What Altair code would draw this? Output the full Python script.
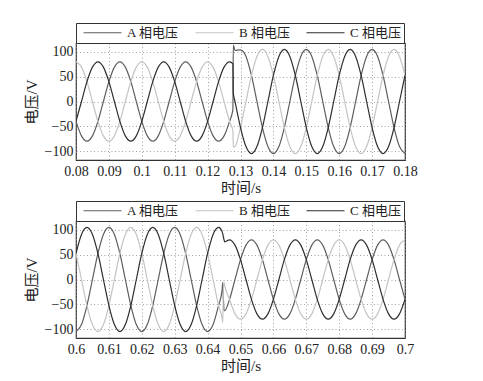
import altair as alt
import pandas as pd

PHASES = ["A 相电压", "B 相电压", "C 相电压"]
COLORS = ["#5e5e5e", "#c4c4c4", "#2e2e2e"]

# ---------- top panel (0.08 - 0.18 s) ----------
TOP_T = [0.08, 0.08167, 0.08333, 0.085, 0.08667, 0.08833, 0.09, 0.09167, 0.09333, 0.095,
         0.09667, 0.09833, 0.1, 0.10167, 0.10333, 0.105, 0.10667, 0.10833, 0.11, 0.11167,
         0.11333, 0.115, 0.11667, 0.11833, 0.12, 0.12167, 0.12333, 0.125, 0.12667,
         0.1277, 0.1278,
         0.12833, 0.13, 0.13167, 0.13333, 0.135, 0.13667, 0.13833, 0.14, 0.14167, 0.14333,
         0.145, 0.14667, 0.14833, 0.15, 0.15167, 0.15333, 0.155, 0.15667, 0.15833, 0.16,
         0.16167, 0.16333, 0.165, 0.16667, 0.16833, 0.17, 0.17167, 0.17333, 0.175, 0.17667,
         0.17833, 0.18]
TOP_A = [-40, -69.3, -80, -69.3, -40, 0, 40, 69.3, 80, 69.3, 40, 0, -40, -69.3, -80, -69.3,
         -40, 0, 40, 69.3, 80, 69.3, 40, 0, -40, -69.3, -80, -69.3, -40,
         -16, 114,
         103, 104, 90.9, 52.5, 0, -52.5, -90.9, -105, -90.9, -52.5, 0, 52.5, 90.9, 105, 90.9,
         52.5, 0, -52.5, -90.9, -105, -90.9, -52.5, 0, 52.5, 90.9, 105, 90.9, 52.5, 0, -52.5,
         -90.9, -105]
TOP_B = [80, 69.3, 40, 0, -40, -69.3, -80, -69.3, -40, 0, 40, 69.3, 80, 69.3, 40, 0, -40,
         -69.3, -80, -69.3, -40, 0, 40, 69.3, 80, 69.3, 40, 0, -40,
         -60, -92,
         -90.9, -52.5, 0, 52.5, 90.9, 105, 90.9, 52.5, 0, -52.5, -90.9, -105, -90.9, -52.5, 0,
         52.5, 90.9, 105, 90.9, 52.5, 0, -52.5, -90.9, -105, -90.9, -52.5, 0, 52.5, 90.9, 105,
         90.9, 52.5]
TOP_C = [-40, 0, 40, 69.3, 80, 69.3, 40, 0, -40, -69.3, -80, -69.3, -40, 0, 40, 69.3, 80,
         69.3, 40, 0, -40, -69.3, -80, -69.3, -40, 0, 40, 69.3, 80,
         76, 18,
         0, -52.5, -90.9, -105, -90.9, -52.5, 0, 52.5, 90.9, 105, 90.9, 52.5, 0, -52.5, -90.9,
         -105, -90.9, -52.5, 0, 52.5, 90.9, 105, 90.9, 52.5, 0, -52.5, -90.9, -105, -90.9,
         -52.5, 0, 52.5]
TOP_TICKS = [0.08, 0.09, 0.1, 0.11, 0.12, 0.13, 0.14, 0.15, 0.16, 0.17, 0.18]

# ---------- bottom panel (0.6 - 0.7 s) ----------
BOT_T = [0.6, 0.60167, 0.60333, 0.605, 0.60667, 0.60833, 0.61, 0.61167, 0.61333, 0.615,
         0.61667, 0.61833, 0.62, 0.62167, 0.62333, 0.625, 0.62667, 0.62833, 0.63, 0.63167,
         0.63333, 0.635, 0.63667, 0.63833, 0.64, 0.64167, 0.64333,
         0.6444, 0.6446, 0.6448, 0.645, 0.6452,
         0.64667, 0.64833, 0.65, 0.65167, 0.65333, 0.655, 0.65667, 0.65833, 0.66, 0.66167,
         0.66333, 0.665, 0.66667, 0.66833, 0.67, 0.67167, 0.67333, 0.675, 0.67667, 0.67833,
         0.68, 0.68167, 0.68333, 0.685, 0.68667, 0.68833, 0.69, 0.69167, 0.69333, 0.695,
         0.69667, 0.69833, 0.7]
BOT_A = [-105, -90.9, -52.5, 0, 52.5, 90.9, 105, 90.9, 52.5, 0, -52.5, -90.9, -105, -90.9,
         -52.5, 0, 52.5, 90.9, 105, 90.9, 52.5, 0, -52.5, -90.9, -105, -90.9, -52.5,
         -22, -6, -38, -62, -63,
         -40, 0, 40, 69.3, 80, 69.3, 40, 0, -40, -69.3, -80, -69.3, -40, 0, 40, 69.3, 80,
         69.3, 40, 0, -40, -69.3, -80, -69.3, -40, 0, 40, 69.3, 80, 69.3, 40, 0, -40]
BOT_B = [52.5, 0, -52.5, -90.9, -105, -90.9, -52.5, 0, 52.5, 90.9, 105, 90.9, 52.5, 0,
         -52.5, -90.9, -105, -90.9, -52.5, 0, 52.5, 90.9, 105, 90.9, 52.5, 0, -52.5,
         -78, -87, -20, -5, -12,
         -40, -69.3, -80, -69.3, -40, 0, 40, 69.3, 80, 69.3, 40, 0, -40, -69.3, -80, -69.3,
         -40, 0, 40, 69.3, 80, 69.3, 40, 0, -40, -69.3, -80, -69.3, -40, 0, 40, 69.3, 80]
BOT_C = [52.5, 90.9, 105, 90.9, 52.5, 0, -52.5, -90.9, -105, -90.9, -52.5, 0, 52.5, 90.9,
         105, 90.9, 52.5, 0, -52.5, -90.9, -105, -90.9, -52.5, 0, 52.5, 90.9, 105,
         97, 92, 86, 80, 76,
         80, 69.3, 40, 0, -40, -69.3, -80, -69.3, -40, 0, 40, 69.3, 80, 69.3, 40, 0, -40,
         -69.3, -80, -69.3, -40, 0, 40, 69.3, 80, 69.3, 40, 0, -40, -69.3, -80, -69.3, -40]
BOT_TICKS = [0.6, 0.61, 0.62, 0.63, 0.64, 0.65, 0.66, 0.67, 0.68, 0.69, 0.7]

Y_TICKS = [-100, -50, 0, 50, 100]
Y_DOMAIN = [-118, 118]

SERIF = "Liberation Serif, Noto Sans CJK SC"


def make_df(t, a, b, c):
    n = len(t)
    return pd.DataFrame({
        "t": list(t) * 3,
        "v": list(a) + list(b) + list(c),
        "phase": [PHASES[0]] * n + [PHASES[1]] * n + [PHASES[2]] * n,
    })


def panel(df, domain, ticks):
    return alt.Chart(df).mark_line(
        interpolate="monotone", strokeWidth=1.2, clip=True
    ).encode(
        x=alt.X("t:Q",
                scale=alt.Scale(domain=domain, nice=False, zero=False),
                axis=alt.Axis(values=ticks, format=".2~f", title="时间/s",
                              labelOverlap=False, labelFlush=False)),
        y=alt.Y("v:Q",
                scale=alt.Scale(domain=Y_DOMAIN, nice=False),
                axis=alt.Axis(values=Y_TICKS, title="电压/V")),
        color=alt.Color("phase:N",
                        scale=alt.Scale(domain=PHASES, range=COLORS),
                        legend=alt.Legend(
                            title=None, orient="top", offset=0, direction="horizontal",
                            symbolType="M-3.8,0H3.8", symbolSize=100, symbolStrokeWidth=1.2,
                            symbolOffset=17, labelOffset=18, columnPadding=12,
                            labelFont=SERIF, labelFontSize=13, labelColor="#222",
                            padding=3, strokeColor="#333", fillColor="white")),
        detail="phase:N",
    ).properties(width=329, height=117)


top = panel(make_df(TOP_T, TOP_A, TOP_B, TOP_C), [0.08, 0.18], TOP_TICKS)
bottom = panel(make_df(BOT_T, BOT_A, BOT_B, BOT_C), [0.6, 0.7], BOT_TICKS)

chart = alt.vconcat(top, bottom, spacing=3).resolve_legend(
    color="independent"
).properties(
    padding={"left": 15, "top": 13, "right": 5, "bottom": 5}
).configure_view(
    stroke="#333", strokeWidth=1.2
).configure_axis(
    domain=False, ticks=False,
    grid=True, gridColor="#888", gridDash=[1, 2.5], gridWidth=0.8,
    labelFont=SERIF, labelFontSize=14, labelColor="#222", labelPadding=4,
    titleFont=SERIF, titleFontSize=15, titleFontWeight="normal", titleColor="#222",
    titlePadding=2,
).configure_axisY(
    labelPadding=3, titlePadding=5
)

chart.save("out.html", embed_options={"renderer": "svg", "actions": False})
